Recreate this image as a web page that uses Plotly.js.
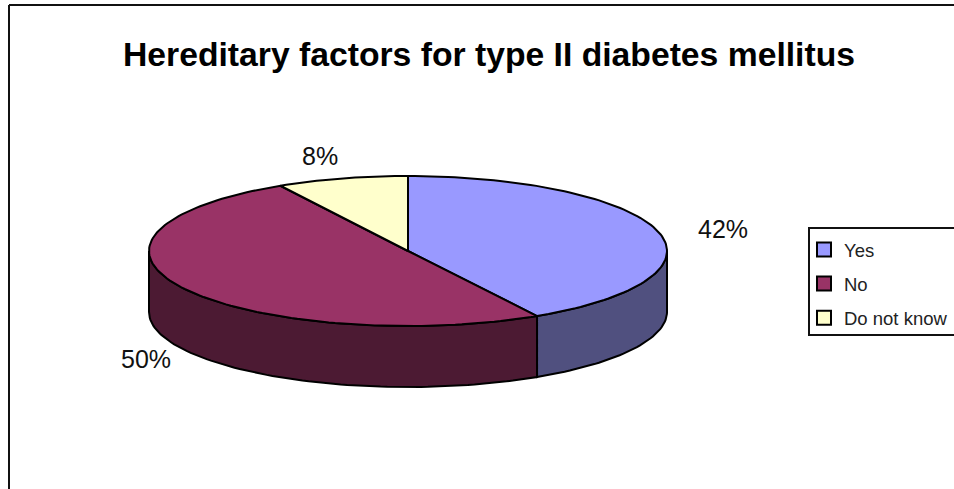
<!DOCTYPE html>
<html>
<head>
<meta charset="utf-8">
<script src="https://cdn.plot.ly/plotly-3.0.1.min.js"></script>
<style>html,body{margin:0;padding:0;background:#fff;overflow:hidden}#chart{width:954px;height:489px}</style>
</head>
<body>
<div id="chart"></div>
<script>
const categories = ["Yes", "No", "Do not know"];
const shares = [41.7, 50.1, 8.2];
const shareLabels = ["42%", "50%", "8%"];
const topColors = ["#9999FF", "#993366", "#FFFFCC"];
const wallColors = ["#50507F", "#4C1A33", "#7F7F66"];

// Pie projection in plot units (axes run 0..954 and 489..0)
const cx = 408, cy = 251, rx = 259, ry = 75, depth = 61;
const labelSpots = [[723, 229], [146, 359], [320, 156]];

const pt = (deg, dy) => {
  const a = deg * Math.PI / 180;
  return [cx + rx * Math.sin(a), cy - ry * Math.cos(a) + dy];
};
const arc = (from, to, dy) => {
  const out = [];
  const n = Math.max(2, Math.ceil(Math.abs(to - from) / 1.5));
  for (let i = 0; i <= n; i++) out.push(pt(from + (to - from) * i / n, dy));
  return out;
};
const polyTrace = (pts, color) => ({
  type: "scatter", mode: "lines", fill: "toself", fillcolor: color,
  x: pts.map(p => p[0]), y: pts.map(p => p[1]),
  line: {color: "#000", width: 2}, showlegend: false, hoverinfo: "skip"
});

const total = shares.reduce((a, b) => a + b, 0);
let start = 0;
const walls = [], tops = [];
shares.forEach((v, i) => {
  const end = start + v / total * 360;
  const a = Math.max(start, 90), b = Math.min(end, 270);
  if (b > a) {
    const pts = arc(a, b, 0).concat(arc(b, a, depth));
    pts.push(pts[0]);
    walls.push(polyTrace(pts, wallColors[i]));
  }
  const t = [[cx, cy]].concat(arc(start, end, 0));
  t.push([cx, cy]);
  tops.push(polyTrace(t, topColors[i]));
  start = end;
});

const legendTraces = categories.map((c, i) => ({
  type: "scatter", mode: "markers", x: [null], y: [null], name: c,
  legendgroup: c,
  marker: {symbol: "square", size: 14, color: topColors[i], line: {color: "#000", width: 2}}
}));

const layout = {
  width: 954, height: 489,
  margin: {l: 0, r: 0, t: 0, b: 0},
  paper_bgcolor: "#fff", plot_bgcolor: "#fff",
  font: {family: "Liberation Sans, Arial, sans-serif", color: "#111"},
  title: {
    text: "<b>Hereditary factors for type II diabetes mellitus</b>",
    font: {size: 33.7, color: "#000"},
    x: 489 / 954, xref: "paper", xanchor: "center",
    y: 1 - 54 / 489, yref: "paper", yanchor: "middle"
  },
  xaxis: {range: [0, 954], visible: false, fixedrange: true},
  yaxis: {range: [489, 0], visible: false, fixedrange: true},
  showlegend: true,
  legend: {
    x: 804 / 954, xanchor: "left", y: 1 - 231 / 489, yanchor: "top",
    bgcolor: "rgba(0,0,0,0)", borderwidth: 0,
    traceorder: "grouped", tracegroupgap: 7,
    font: {size: 18.5, color: "#222"}
  },
  shapes: [
    {type: "line", xref: "x", yref: "y", x0: 9, x1: 9, y0: 5, y1: 489, line: {color: "#111", width: 2}},
    {type: "line", xref: "x", yref: "y", x0: 9, x1: 954, y0: 5, y1: 5, line: {color: "#111", width: 2}},
    {type: "rect", xref: "x", yref: "y", x0: 809, x1: 970, y0: 228, y1: 335, line: {color: "#111", width: 2}}
  ],
  annotations: shareLabels.map((t, i) => ({
    text: t, x: labelSpots[i][0], y: labelSpots[i][1], xref: "x", yref: "y",
    showarrow: false, xanchor: "center", yanchor: "middle",
    font: {size: 25, color: "#111"}
  }))
};

Plotly.newPlot("chart", walls.concat(tops, legendTraces), layout, {displayModeBar: false, staticPlot: true});
</script>
</body>
</html>
